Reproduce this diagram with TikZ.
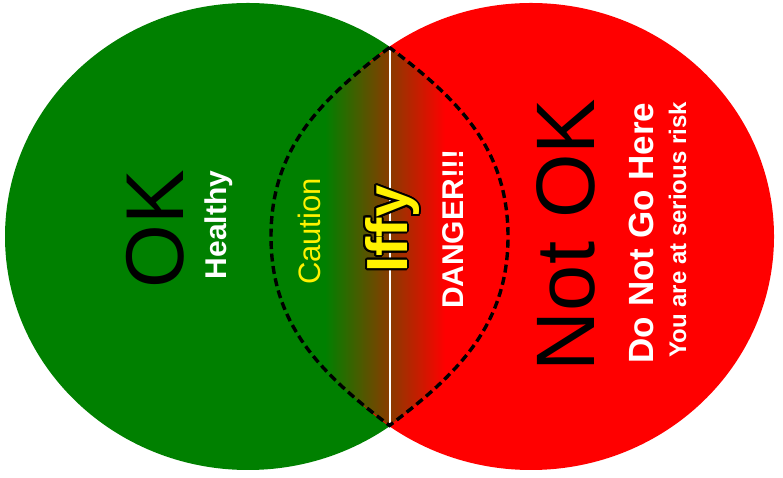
\documentclass[tikz,border=0pt]{standalone}
\usepackage{fontspec}
\setmainfont{Liberation Sans}
\usepackage[copies]{contour}
\usetikzlibrary{positioning}

\definecolor{okgreen}{RGB}{0,128,0}
\definecolor{badred}{RGB}{255,0,0}
\contourlength{2pt}

\begin{document}
\begin{tikzpicture}[
    x=1pt, y=1pt,
    big/.style={rotate=90, anchor=base, font=\fontsize{82}{90}\selectfont},
    lbl/.style={rotate=90, anchor=base, text=white, font=\bfseries\fontsize{#1}{#1}\selectfont},
    warn/.style={rotate=90, anchor=base, text=yellow, font=\fontsize{#1}{#1}\selectfont},
    lens/.style={draw=black, line width=3.4pt, dash pattern=on 8pt off 4.5pt}
]
\useasboundingbox (0,0) rectangle (783,478);

% the two zones
\fill[okgreen] (248,241.5) ellipse [x radius=243, y radius=233.5];
\fill[badred] (531,241.5) ellipse [x radius=243, y radius=233.5];

% overlap
\coordinate (top) at (389.5,430.5);
\coordinate (bot) at (389.5,52.5);
\coordinate (lw) at (271,241.5);
\coordinate (le) at (508,241.5);
\begin{scope}
  \clip (top) to[out=217,in=90] (lw) to[out=270,in=143] (bot)
    to[out=37,in=270] (le) to[out=90,in=323] (top) -- cycle;
  \fill[okgreen] (260,40) rectangle (326,440);
  \fill[badred] (444,40) rectangle (520,440);
  \shade[left color=okgreen, right color=badred] (325,40) rectangle (445,440);
\end{scope}
\draw[white, line width=2pt] (top) -- (bot);
\draw[lens] (top) to[out=217,in=90] (lw) to[out=270,in=143] (bot)
    to[out=37,in=270] (le) to[out=90,in=323] (top) -- cycle;

% labels
\node[big] (ok) at (183,249) {OK};
\node[lbl=30] (healthy) at (226,253) {Healthy};
\node[warn=31] (caution) at (320,246.5) {Caution};
\node[warn=58, font=\bfseries\fontsize{58}{58}\selectfont] (iffy) at (407,249) {\contour{black}{Iffy}};
\node[lbl=30] (danger) at (463,249) {DANGER!!!};
\node[big, font=\fontsize{83}{90}\selectfont] (notok) at (594,243) {Not OK};
\node[lbl=35] (donot) at (653,245) {Do Not Go Here};
\node[lbl=24] (risk) at (686,248) {You are at serious risk};
\end{tikzpicture}
\end{document}
